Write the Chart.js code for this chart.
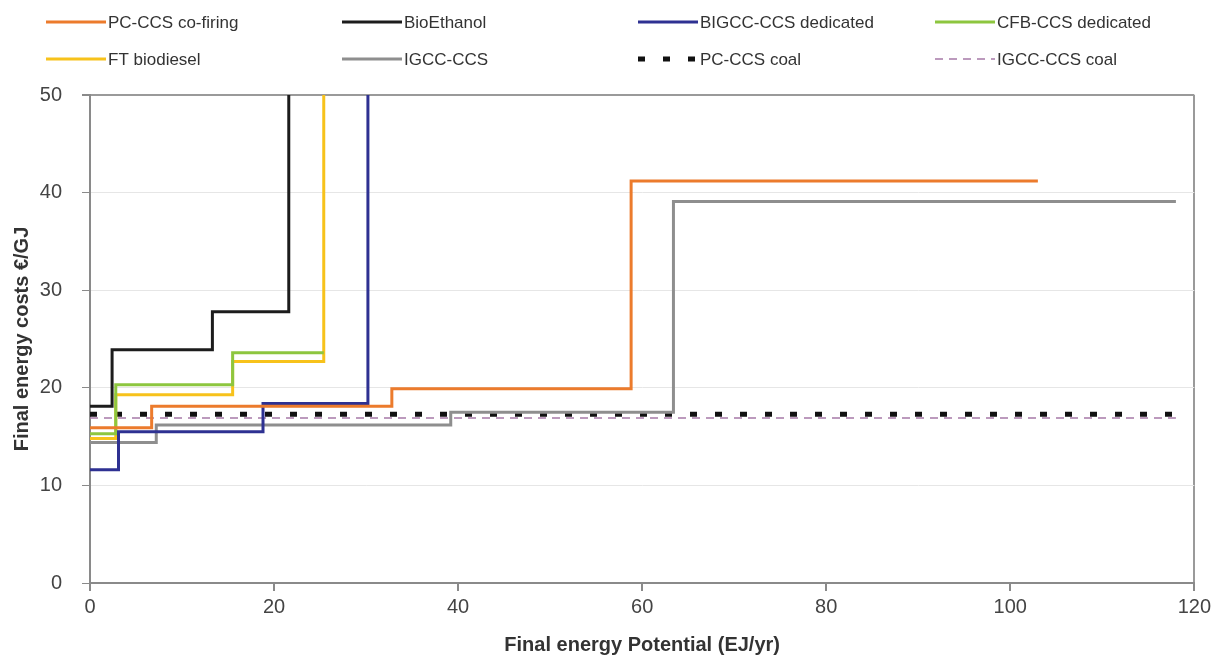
<!DOCTYPE html>
<html>
<head>
<meta charset="utf-8">
<script src="https://cdn.jsdelivr.net/npm/chart.js@4"></script>
<style>
  body { margin: 0; background: #fff; }
  #wrap { width: 1215px; height: 666px; position: relative; }
</style>
</head>
<body>
<div id="wrap"><canvas id="supplyChart"></canvas></div>
<script>
// cumulative potential (EJ/yr) where each cost step starts, and the cost (€/GJ) of that step
const pcCofiringX = [0, 6.7, 32.8, 58.8, 103];
const pcCofiringY = [15.9, 18.1, 19.9, 41.2, 41.2];

const bioEthanolX = [0, 2.4, 13.3, 21.6];
const bioEthanolY = [18.1, 23.9, 27.8, 50];

const bigccX = [0, 3.1, 18.8, 30.2];
const bigccY = [11.6, 15.5, 18.4, 50];

const cfbX = [0, 2.8, 15.5, 25.4];
const cfbY = [15.3, 20.3, 23.6, 23.6];

const ftBiodieselX = [0, 2.8, 15.5, 25.4];
const ftBiodieselY = [14.8, 19.3, 22.7, 50];

const igccX = [0, 7.2, 39.2, 63.4, 118];
const igccY = [14.4, 16.2, 17.5, 39.1, 39.1];

const pcCoalX = [0, 118];
const pcCoalY = [17.3, 17.3];

const igccCoalX = [0, 118];
const igccCoalY = [16.9, 16.9];

const xTicks = [0, 20, 40, 60, 80, 100, 120];
const yTicks = [0, 10, 20, 30, 40, 50];

const FONT = "'Liberation Sans', Arial, sans-serif";

function pts(xs, ys) {
  return xs.map((x, i) => ({ x: x, y: ys[i] }));
}

function series(label, xs, ys, color, width, dash) {
  return {
    label: label,
    data: pts(xs, ys),
    borderColor: color,
    backgroundColor: color,
    borderWidth: width,
    borderDash: dash || [],
    stepped: 'before',   // hold the previous cost until the next step
    pointRadius: 0,
    fill: false,
    tension: 0
  };
}

const datasets = [
  series('PC-CCS co-firing', pcCofiringX, pcCofiringY, '#ec7b2c', 3),
  series('BioEthanol', bioEthanolX, bioEthanolY, '#1c1c1c', 3),
  series('BIGCC-CCS dedicated', bigccX, bigccY, '#2e3192', 3),
  series('CFB-CCS dedicated', cfbX, cfbY, '#8dc63f', 3),
  series('FT biodiesel', ftBiodieselX, ftBiodieselY, '#f7c21b', 3),
  series('IGCC-CCS', igccX, igccY, '#8e8e8e', 3),
  series('PC-CCS coal', pcCoalX, pcCoalY, '#111111', 5, [7, 18]),
  series('IGCC-CCS coal', igccCoalX, igccCoalY, '#a77aa8', 1.5, [8, 6])
];

// legend laid out as a 2 x 4 grid like the original figure
const legendCols = [46, 342, 638, 935];
const legendRows = [22, 59];

const gridLegend = {
  id: 'gridLegend',
  afterDraw(chart) {
    const ctx = chart.ctx;
    chart.data.datasets.forEach((ds, i) => {
      const x = legendCols[i % 4];
      const y = legendRows[Math.floor(i / 4)];
      ctx.save();
      ctx.strokeStyle = ds.borderColor;
      ctx.lineWidth = ds.borderWidth;
      ctx.setLineDash(ds.borderDash);
      ctx.beginPath();
      ctx.moveTo(x, y);
      ctx.lineTo(x + 60, y);
      ctx.stroke();
      ctx.setLineDash([]);
      ctx.fillStyle = '#333';
      ctx.font = '17px ' + FONT;
      ctx.textBaseline = 'middle';
      ctx.textAlign = 'left';
      ctx.fillText(ds.label, x + 62, y + 1);
      ctx.restore();
    });
  }
};

new Chart(document.getElementById('supplyChart'), {
  type: 'line',
  data: { datasets: datasets },
  plugins: [gridLegend],
  options: {
    responsive: true,
    maintainAspectRatio: false,
    animation: false,
    layout: { padding: { top: 95, right: 10, bottom: 5, left: 6 } },
    plugins: {
      legend: { display: false },
      tooltip: { enabled: false }
    },
    scales: {
      x: {
        type: 'linear',
        min: 0,
        max: 120,
        afterBuildTicks(scale) { scale.ticks = xTicks.map(v => ({ value: v })); },
        afterFit(scale) { scale.height = 78; },
        border: { color: '#8a8a8a', width: 2 },
        grid: {
          color: c => c.tick && c.tick.value === 120 ? '#9a9a9a' : 'rgba(0,0,0,0)',
          lineWidth: 2,
          tickColor: '#8a8a8a',
          tickLength: 8
        },
        ticks: {
          color: '#444',
          padding: 4,
          maxRotation: 0,
          font: { family: FONT, size: 20 }
        },
        title: {
          display: true,
          text: 'Final energy Potential (EJ/yr)',
          color: '#333',
          font: { family: FONT, size: 20, weight: 'bold' }
        }
      },
      y: {
        type: 'linear',
        min: 0,
        max: 50,
        afterBuildTicks(scale) { scale.ticks = yTicks.map(v => ({ value: v })); },
        afterFit(scale) { scale.width = 84; },
        border: { color: '#8a8a8a', width: 2 },
        grid: {
          color: c => {
            if (!c.tick) return '#e4e4e4';
            if (c.tick.value === 50) return '#9a9a9a';
            if (c.tick.value === 0) return 'rgba(0,0,0,0)';
            return '#e6e6e6';
          },
          lineWidth: c => c.tick && c.tick.value === 50 ? 2 : 1,
          tickColor: '#8a8a8a',
          tickLength: 8
        },
        ticks: {
          color: '#444',
          padding: 20,
          font: { family: FONT, size: 20 }
        },
        title: {
          display: true,
          text: 'Final energy costs €/GJ',
          color: '#333',
          font: { family: FONT, size: 20, weight: 'bold' }
        }
      }
    }
  }
});
</script>
</body>
</html>
